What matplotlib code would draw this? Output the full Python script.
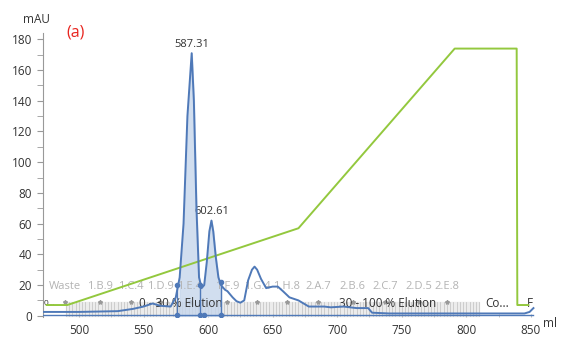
import numpy as np
import matplotlib.pyplot as plt

# UV trace (ml, mAU)
uv_ml = [472, 500, 530, 542, 550, 557, 563, 571, 575, 578, 581, 584, 587.31, 589, 591, 593, 595,
         597, 599, 601, 602.61, 604, 606, 608, 610, 613, 615, 619, 622, 625, 628, 631, 634, 636,
         638, 641, 645, 650, 654, 658, 663, 670, 678, 690, 695, 705, 715, 724, 727, 740, 800, 845,
         849, 852]
uv_mau = [2.5, 2.5, 3, 4.5, 6, 8, 6.5, 6, 12, 25, 60, 130, 171, 140, 70, 25, 18,
          20, 35, 55, 62, 55, 38, 25, 20, 17, 16, 12, 9.5, 8.5, 10, 23, 30, 32,
          30, 24, 18, 19, 19, 16, 12, 10, 6, 6, 5.5, 6, 5, 5, 2, 1.5, 1.5, 1.5,
          2.5, 5]
base_ml = [472, 852]
base_mau = [0.6, 0.6]

# gradient (%B, drawn on mAU scale)
grad_ml = [475, 491, 670, 791, 839, 839.5, 848]
grad_val = [7, 7, 57, 174, 174, 7, 7]

# fractions
frac_labels = ["Waste", "1.B.9", "1.C.4", "1.D.9", "1.E.4", "1.F.9", "1.G.4", "1.H.8",
               "2.A.7", "2.B.6", "2.C.7", "2.D.5", "2.E.8"]
frac_pos = [489, 516, 540, 563, 586, 615, 638, 661, 685, 712, 737, 763, 785]
frac_start, frac_end, frac_step = 490, 810, 2.5

# peaks
peak_ml = [587.31, 602.61]
peak_mau = [171, 62]
bound_ml = [576, 594, 610]
bound_mau = [20, 20, 22]

blue = "#4f79b8"
green = "#93c83e"
grey = "#b3b3b3"

plt.rcParams['font.family'] = ['Open Sans', 'DejaVu Sans']

fig = plt.figure(figsize=(5.63, 3.39), dpi=100)
ax = fig.add_axes([0.076, 0.064, 0.883, 0.838])
ax.set_xlim(472, 857)
ax.set_ylim(-1, 184)

# fraction band
ax.fill_between([frac_start, frac_end], 0, 9, color="#ececec", zorder=0)
for f in np.arange(frac_start, frac_end + 0.1, frac_step):
    ax.plot([f, f], [0, 9], color="#c8c8c8", lw=0.6, zorder=1)
ax.plot(frac_pos, [9] * len(frac_pos), ls="none", marker="*", ms=3, color="#999999", zorder=2)
for lab, p in zip(frac_labels, frac_pos):
    ax.text(p, 19, lab, color=grey, fontsize=8, ha="center", va="center")

ax.text(579, 8, "0 - 30 % Elution", fontsize=8.5, ha="center", va="center", color="#333333")
ax.text(739, 8, "30 - 100 % Elution", fontsize=8.5, ha="center", va="center", color="#333333")
ax.text(824, 8, "Co...", fontsize=8.5, ha="center", va="center", color="#333333")
ax.text(849, 8, "F", fontsize=8.5, ha="center", va="center", color="#333333")
ax.text(473, 8, "0...", fontsize=6, ha="left", va="center", color="#333333")

# gradient
ax.plot(grad_ml, grad_val, color=green, lw=1.4, zorder=3)

# UV
uv_ml = np.array(uv_ml)
uv_mau = np.array(uv_mau)
sel = (uv_ml >= bound_ml[0]) & (uv_ml <= bound_ml[-1])
ax.fill_between(uv_ml[sel], 0, uv_mau[sel], color="#c6d6ec", alpha=0.8, zorder=2)
ax.plot(base_ml, base_mau, color=blue, lw=1.0, zorder=4)
ax.plot(uv_ml, uv_mau, color=blue, lw=1.4, zorder=4)
for b, h in zip(bound_ml, bound_mau):
    ax.plot([b, b], [0.6, h], color=blue, lw=1.0, zorder=4)
ax.plot(bound_ml, bound_mau, ls="none", marker="o", ms=3, color=blue, zorder=5)
ax.plot(bound_ml + [597], [0.6] * 4, ls="none", marker="o", ms=3, color=blue, zorder=5)

for p, h in zip(peak_ml, peak_mau):
    ax.text(p, h + 2, "%.2f" % p, fontsize=8, ha="center", va="bottom", color="#333333")

# axes styling
for s in ["top", "right"]:
    ax.spines[s].set_visible(False)
ax.spines["left"].set_color("#999999")
ax.spines["bottom"].set_visible(False)
ax.set_yticks(np.arange(0, 181, 20))
ax.set_yticks(np.arange(10, 181, 20), minor=True)
ax.set_xticks(np.arange(500, 851, 50))
ax.set_xticks(np.arange(525, 851, 50), minor=True)
ax.tick_params(axis="y", which="both", colors="#999999", labelcolor="#333333", labelsize=8.5, length=4)
ax.tick_params(axis="x", which="both", colors="#bbbbbb", labelcolor="#333333", labelsize=8.5, length=2,
               direction="in", pad=5)

fig.text(0.04, 0.942, "mAU", fontsize=8.5, ha="left", va="center", color="#333333")
fig.text(0.965, 0.045, "ml", fontsize=8.5, ha="left", va="center", color="#333333")
fig.text(0.118, 0.905, "(a)", fontsize=11.5, ha="left", va="center", color="#e8251f")

fig.savefig("out.png", dpi=100)
plt.close()
